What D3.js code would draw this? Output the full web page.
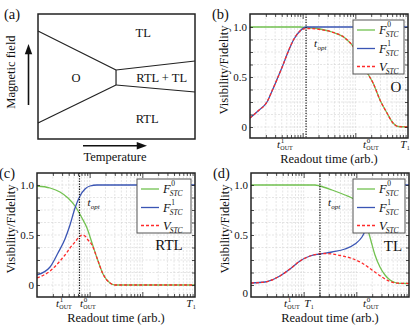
<!DOCTYPE html>
<html><head><meta charset="utf-8">
<script src="https://cdn.jsdelivr.net/npm/d3@7"></script>
<style>body{margin:0;background:#fff}svg{display:block}</style>
</head><body>
<script>
// ---------- DATA ----------
// Panel (a): phase diagram (temperature, field) in normalized units
const phaseBoundaries = [
  [[0, 0.864], [0.497, 0.552]],
  [[0.497, 0.552], [0.497, 0.432]],
  [[0, 0.128], [0.497, 0.432]],
  [[0.497, 0.552], [1, 0.624]],
  [[0.497, 0.432], [1, 0.376]]
];
const phaseNames = ["TL", "O", "RTL + TL", "RTL"];
const phaseNameT = [0.67, 0.242, 0.788, 0.695];
const phaseNameH = [0.85, 0.488, 0.488, 0.16];

// Panel (b): O
const bX_F0 = [1, 8.9, 11.6, 21.3, 36.1, 63.7, 98.6, 134, 174, 217, 294, 399, 519, 646, 1000];
const bY_F0 = [1, 1, 0.995, 0.98, 0.95, 0.89, 0.78, 0.65, 0.53, 0.44, 0.27, 0.14, 0.04, 0.005, 0];
const bX_F1 = [1, 1.42, 2.1, 2.62, 3.4, 4.23, 5.27, 6.85, 8.9, 11.6, 33, 1000];
const bY_F1 = [0.09, 0.16, 0.25, 0.36, 0.5, 0.62, 0.75, 0.88, 0.96, 1, 1, 1];
const bX_V = [1, 1.42, 2.1, 2.62, 3.4, 4.23, 5.27, 6.85, 8.9, 11.6, 21.3, 36.1, 63.7, 98.6, 134, 174, 217, 294, 399, 519, 646, 1000];
const bY_V = [0.09, 0.16, 0.25, 0.36, 0.5, 0.62, 0.75, 0.88, 0.96, 0.985, 0.975, 0.95, 0.89, 0.78, 0.65, 0.53, 0.44, 0.27, 0.14, 0.04, 0.005, 0];
const bTickX = [4.62, 198, 877];
const bTickLabels = ["t^1_OUT", "t^0_OUT", "T_1"];
const bTopt = 11.6;

// Panel (c): RTL
const cX_F0 = [1, 1.77, 2.73, 3.88, 5.27, 7.15, 8.9, 11.07, 13.78, 17.91, 24.33, 30.27, 1000];
const cY_F0 = [0.99, 0.97, 0.93, 0.87, 0.79, 0.67, 0.57, 0.42, 0.27, 0.11, 0.02, 0, 0];
const cX_F1 = [1, 1.77, 2.5, 3.4, 4.23, 5.27, 6.55, 8.16, 10.15, 13.78, 1000];
const cY_F1 = [0.1, 0.18, 0.32, 0.46, 0.6, 0.77, 0.89, 0.96, 0.99, 1, 1];
const cX_V = [1, 1.77, 2.73, 3.4, 4.23, 5.27, 6.27, 7.15, 8.16, 9.3, 11.07, 13.78, 17.91, 24.33, 30.27, 1000];
const cY_V = [0.07, 0.14, 0.24, 0.3, 0.37, 0.43, 0.48, 0.5, 0.49, 0.45, 0.4, 0.27, 0.11, 0.02, 0, 0];
const cTickX = [3.26, 9.3, 840];
const cTickLabels = ["t^1_OUT", "t^0_OUT", "T_1"];
const cTopt = 6.41;

// Panel (d): TL
const dX_F0 = [1, 16.4, 20.4, 34.5, 60.9, 82.8, 117.4, 146, 166.5, 190, 226, 281, 350, 436, 542, 675, 1000];
const dY_F0 = [1, 1, 0.99, 0.95, 0.9, 0.87, 0.8, 0.66, 0.55, 0.44, 0.3, 0.18, 0.1, 0.05, 0.025, 0.016, 0.015];
const dX_F1 = [1, 1.85, 3.26, 5.5, 8.52, 13.2, 20.4, 34.5, 60.9, 94.3, 128, 159, 226, 350, 542, 804, 1000];
const dY_F1 = [0.02, 0.03, 0.08, 0.16, 0.24, 0.29, 0.31, 0.33, 0.36, 0.41, 0.48, 0.58, 0.75, 0.92, 0.99, 1, 1];
const dX_V = [1, 1.85, 3.26, 5.5, 8.52, 13.2, 18.7, 25.4, 34.5, 49, 82.8, 128, 198, 307, 436, 618, 1000];
const dY_V = [0.02, 0.03, 0.08, 0.16, 0.24, 0.29, 0.31, 0.315, 0.31, 0.295, 0.265, 0.22, 0.15, 0.08, 0.035, 0.018, 0.015];
const dTickX = [6.0, 12.6, 190];
const dTickLabels = ["t^1_OUT", "T_1", "t^0_OUT"];
const dTopt = 20.4;

const yTickLabels = ["0", "0.5", "1.0"];
const yTickVals = [0, 0.5, 1];
const dYTickLabelVals = [-0.08, 0.5, 1];
const legendBases = ["F", "F", "V"];
const legendSups = ["0", "1", ""];
const legendSub = "STC";

// ---------- STYLE ----------
const SERIF = "'Liberation Serif','Times New Roman',Times,serif";
const GREEN = "#72c150", BLUE = "#3a55b4", RED = "#ff2b2b";

const svg = d3.select("body").append("svg").attr("width", 416).attr("height", 325)
  .style("font-family", SERIF);

function txt(g, x, y, s, size, opts = {}) {
  return g.append("text").attr("x", x).attr("y", y).text(s)
    .attr("font-size", size).attr("font-style", opts.italic ? "italic" : null)
    .attr("text-anchor", opts.anchor || "start").attr("fill", "#111");
}

// rich label like t^1_OUT or T_1 : returns group
function rich(g, spec, baseSize, smallSize, subItalic) {
  const m = spec.match(/^([^\^_]+)(\^([^_]+))?(_(.+))?$/);
  const grp = g.append("g");
  const b = txt(grp, 0, 0, m[1], baseSize, { italic: true });
  const w = b.node().getComputedTextLength();
  if (m[3]) txt(grp, w + 0.8, -baseSize * 0.4, m[3], smallSize + 1);
  if (m[5]) txt(grp, w + 0.3, baseSize * 0.26, m[5], smallSize, { italic: subItalic });
  return grp;
}

// ---------- PANEL (a) ----------
(function () {
  const L = 38, R = 195, T = 14, B = 139;
  const x = d3.scaleLinear().domain([0, 1]).range([L, R]);
  const y = d3.scaleLinear().domain([0, 1]).range([B, T]);
  const g = svg.append("g");
  g.append("rect").attr("x", L).attr("y", T).attr("width", R - L).attr("height", B - T)
    .attr("fill", "none").attr("stroke", "#222").attr("stroke-width", 1.5);
  const ln = d3.line().x(d => x(d[0])).y(d => y(d[1]));
  g.selectAll("path.pb").data(phaseBoundaries).join("path").attr("class", "pb")
    .attr("d", ln).attr("fill", "none").attr("stroke", "#222").attr("stroke-width", 1.2);
  phaseNames.forEach((n, i) => {
    txt(g, x(phaseNameT[i]), y(phaseNameH[i]) + 4.3, n, 12.5, { anchor: "middle" });
  });
  txt(g, 4, 19, "(a)", 14.5);
  // axis arrows
  const ay = d3.scaleLinear().domain([0, 1]).range([105, 44]);
  g.append("line").attr("x1", 28.5).attr("x2", 28.5).attr("y1", ay(0)).attr("y2", ay(0.85))
    .attr("stroke", "#111").attr("stroke-width", 1.6);
  g.append("path").attr("d", `M28.5,${ay(1)} L24.8,${ay(0.83)} L32.2,${ay(0.83)} Z`).attr("fill", "#111");
  const ax = d3.scaleLinear().domain([0, 1]).range([83, 147]);
  g.append("line").attr("x1", ax(0)).attr("x2", ax(0.88)).attr("y1", 145.7).attr("y2", 145.7)
    .attr("stroke", "#111").attr("stroke-width", 1.6);
  g.append("path").attr("d", `M${ax(1)},145.7 L${ax(0.84)},142 L${ax(0.84)},149.4 Z`).attr("fill", "#111");
  txt(g, 115, 161, "Temperature", 12.5, { anchor: "middle" });
  txt(g, 0, 0, "Magnetic field", 12.5, { anchor: "middle" })
    .attr("transform", "translate(15,72) rotate(-90)");
})();

// ---------- PANELS (b)(c)(d) ----------
let clipId = 0;
function drawPanel(cfg) {
  const { L, R, T, B } = cfg;
  const x = d3.scaleLog().domain([1, 1000]).range([L, R]);
  const y = d3.scaleLinear().domain(cfg.yDom).range([B, T]);
  const g = svg.append("g");
  const id = "clip" + (clipId++);
  g.append("clipPath").attr("id", id).append("rect")
    .attr("x", L).attr("y", T).attr("width", R - L).attr("height", B - T);

  // grid
  const xt = x.ticks().filter(v => v > 1 && v < 1000);
  const yMinor = d3.range(0, 1.001, 0.125);
  const grid = g.append("g").attr("stroke", "#d4d4d4").attr("stroke-width", 0.6)
    .attr("stroke-dasharray", "2,1.5");
  grid.selectAll("line.gx").data(xt).join("line")
    .attr("x1", d => x(d)).attr("x2", d => x(d)).attr("y1", T).attr("y2", B);
  grid.selectAll("line.gy").data(yMinor).join("line")
    .attr("x1", L).attr("x2", R).attr("y1", d => y(d)).attr("y2", d => y(d));

  // curves
  const cg = g.append("g").attr("clip-path", `url(#${id})`);
  const line = d3.line().x(d => x(d[0])).y(d => y(d[1])).curve(d3.curveMonotoneX);
  const series = [
    { xs: cfg.F0x, ys: cfg.F0y, c: GREEN, dash: null },
    { xs: cfg.F1x, ys: cfg.F1y, c: BLUE, dash: null },
    { xs: cfg.Vx, ys: cfg.Vy, c: RED, dash: "3,2" }
  ];
  series.forEach(s => {
    cg.append("path").datum(s.xs.map((v, i) => [v, s.ys[i]]))
      .attr("d", line).attr("fill", "none").attr("stroke", s.c)
      .attr("stroke-width", 1.3).attr("stroke-dasharray", s.dash);
  });

  // t_opt dotted line
  g.append("line").attr("x1", x(cfg.topt)).attr("x2", x(cfg.topt)).attr("y1", T).attr("y2", B)
    .attr("stroke", "#111").attr("stroke-width", 1.2).attr("stroke-dasharray", "1.3,1.3");
  const to = rich(g, "t_opt", 11, 7, true);
  to.attr("transform", `translate(${x(cfg.topt) + 8},${T + 33})`);

  // axes with inward ticks
  const isMajor = v => Math.abs(Math.log10(v) - Math.round(Math.log10(v))) < 1e-9;
  const axB = g.append("g").attr("transform", `translate(0,${B})`)
    .call(d3.axisBottom(x).tickValues(xt).tickSizeOuter(0).tickFormat(""));
  const axT = g.append("g").attr("transform", `translate(0,${T})`)
    .call(d3.axisTop(x).tickValues(xt).tickSizeOuter(0).tickFormat(""));
  axB.selectAll(".tick line").attr("y2", d => isMajor(d) ? -5 : -3);
  axT.selectAll(".tick line").attr("y2", d => isMajor(d) ? 5 : 3);
  const axL = g.append("g").attr("transform", `translate(${L},0)`)
    .call(d3.axisLeft(y).tickValues(yMinor).tickSizeOuter(0).tickSizeInner(-3).tickFormat(""));
  const axR = g.append("g").attr("transform", `translate(${R},0)`)
    .call(d3.axisRight(y).tickValues(yMinor).tickSizeOuter(0).tickSizeInner(-3).tickFormat(""));
  [axB, axT, axL, axR].forEach(a => {
    a.select(".domain").remove();
    a.selectAll(".tick line").attr("stroke", "#222").attr("stroke-width", 0.8);
  });

  // frame
  g.append("rect").attr("x", L).attr("y", T).attr("width", R - L).attr("height", B - T)
    .attr("fill", "none").attr("stroke", "#222").attr("stroke-width", 1.5);

  // y tick labels
  cfg.yLabVals.forEach((v, i) => {
    txt(g, L - 3, y(v) + 3.8, yTickLabels[i], 11, { anchor: "end" });
  });
  // x tick labels
  cfg.tickX.forEach((v, i) => {
    const r = rich(g, cfg.tickLabels[i], 11, 6, false);
    const bb = r.node().getBBox();
    r.attr("transform", `translate(${x(v) - bb.x - bb.width / 2},${B + 9.5})`);
  });

  // axis titles
  txt(g, (L + R) / 2, B + 25, "Readout time (arb.)", 12.5, { anchor: "middle" });
  txt(g, 0, 0, "Visibility/Fidelity", 12.5, { anchor: "middle" })
    .attr("transform", `translate(${L - 22},${(T + B) / 2 - 6}) rotate(-90)`);

  // panel tag and regime label
  txt(g, L - 38, T + 5, cfg.tag, 14.5);
  txt(g, R - cfg.regDx, T + cfg.regDy, cfg.regime, 15, { anchor: "middle" });

  // legend
  const lw = cfg.legW, lh = 54, lx = R - 4 - lw, ly = T + 6;
  const lg = g.append("g");
  lg.append("rect").attr("x", lx).attr("y", ly).attr("width", lw).attr("height", lh)
    .attr("fill", "#fff").attr("stroke", "#555").attr("stroke-width", 1);
  const rows = [10, 28.5, 46.5];
  series.forEach((s, i) => {
    const yy = ly + rows[i];
    lg.append("line").attr("x1", lx + 4).attr("x2", lx + 22).attr("y1", yy).attr("y2", yy)
      .attr("stroke", s.c).attr("stroke-width", 1.3).attr("stroke-dasharray", s.dash);
    const t0 = txt(lg, lx + 26, yy + 4, legendBases[i], 12.5, { italic: true });
    const w = t0.node().getComputedTextLength();
    if (legendSups[i]) txt(lg, lx + 26 + w + 0.5, yy - 3, legendSups[i], 7.5);
    txt(lg, lx + 26 + w - 1, yy + 7, legendSub, 7.5, { italic: true });
  });
}

drawPanel({ L: 250, R: 408, T: 14, B: 138, yDom: [-0.11, 1.13],
  F0x: bX_F0, F0y: bY_F0, F1x: bX_F1, F1y: bY_F1, Vx: bX_V, Vy: bY_V,
  topt: bTopt, tickX: bTickX, tickLabels: bTickLabels, yLabVals: yTickVals,
  tag: "(b)", regime: "O", regDx: 12, regDy: 78, legW: 51 });
drawPanel({ L: 37, R: 195, T: 173, B: 297, yDom: [-0.12, 1.12],
  F0x: cX_F0, F0y: cY_F0, F1x: cX_F1, F1y: cY_F1, Vx: cX_V, Vy: cY_V,
  topt: cTopt, tickX: cTickX, tickLabels: cTickLabels, yLabVals: yTickVals,
  tag: "(c)", regime: "RTL", regDx: 26, regDy: 77, legW: 54 });
drawPanel({ L: 251, R: 409, T: 173, B: 297, yDom: [-0.12, 1.12],
  F0x: dX_F0, F0y: dY_F0, F1x: dX_F1, F1y: dY_F1, Vx: dX_V, Vy: dY_V,
  topt: dTopt, tickX: dTickX, tickLabels: dTickLabels, yLabVals: dYTickLabelVals,
  tag: "(d)", regime: "TL", regDx: 16, regDy: 78, legW: 52 });
</script>
</body></html>
